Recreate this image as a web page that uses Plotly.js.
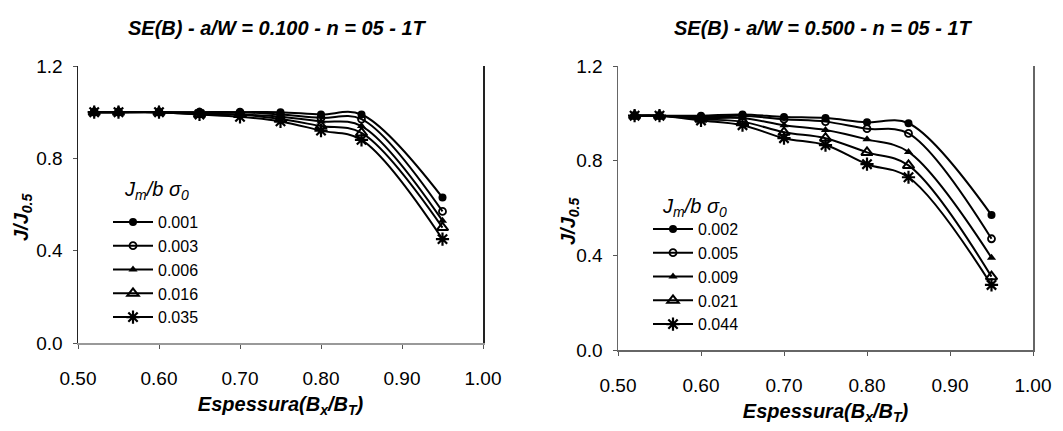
<!DOCTYPE html>
<html>
<head>
<meta charset="utf-8">
<script src="https://cdn.plot.ly/plotly-3.0.1.min.js"></script>
<style>html,body{margin:0;padding:0;background:#fff;}#chart{width:1063px;height:431px;}</style>
</head>
<body>
<div id="chart"></div>
<script>
// ---- data ----
const thickness = [0.52, 0.55, 0.60, 0.65, 0.70, 0.75, 0.80, 0.85, 0.95];

const leftNames = ['0.001', '0.003', '0.006', '0.016', '0.035'];
const left001 = [1.00, 1.00, 1.00, 1.00, 1.00, 1.00, 0.99, 0.99, 0.63];
const left003 = [1.00, 1.00, 1.00, 1.00, 1.00, 0.99, 0.975, 0.97, 0.57];
const left006 = [1.00, 1.00, 1.00, 0.995, 0.99, 0.98, 0.96, 0.94, 0.53];
const left016 = [1.00, 1.00, 1.00, 0.99, 0.99, 0.97, 0.94, 0.91, 0.50];
const left035 = [1.00, 1.00, 1.00, 0.99, 0.98, 0.96, 0.92, 0.88, 0.45];

const rightNames = ['0.002', '0.005', '0.009', '0.021', '0.044'];
const right002 = [0.99, 0.99, 0.99, 0.995, 0.985, 0.98, 0.962, 0.958, 0.57];
const right005 = [0.99, 0.99, 0.985, 0.99, 0.975, 0.965, 0.935, 0.915, 0.47];
const right009 = [0.99, 0.99, 0.98, 0.98, 0.95, 0.93, 0.89, 0.837, 0.39];
const right021 = [0.99, 0.99, 0.975, 0.965, 0.92, 0.895, 0.835, 0.78, 0.31];
const right044 = [0.99, 0.99, 0.97, 0.95, 0.895, 0.866, 0.785, 0.73, 0.275];

const xTicks = [0.5, 0.6, 0.7, 0.8, 0.9, 1.0];
const xTickText = ['0.50', '0.60', '0.70', '0.80', '0.90', '1.00'];
const yTicks = [0.0, 0.4, 0.8, 1.2];
const yTickText = ['0.0', '0.4', '0.8', '1.2'];

// ---- styles ----
const FONT = 'Liberation Sans, Arial, sans-serif';
const markerStyles = [
  {symbol: 'circle', size: 8, color: '#000', line: {width: 0}},
  {symbol: 'circle-open', size: 7, color: '#000', line: {width: 1.8, color: '#000'}},
  {symbol: 'triangle-up', size: 8, color: '#000', line: {width: 0}},
  {symbol: 'triangle-up-open', size: 10, color: '#000', line: {width: 2, color: '#000'}},
  {symbol: 'asterisk-open', size: 11, color: '#000', line: {width: 2.2, color: '#000'}}
];

function mk(y, name, i, xa, ya, lg) {
  return {
    x: thickness, y: y, name: name, type: 'scatter', mode: 'lines+markers',
    xaxis: xa, yaxis: ya, legend: lg,
    line: {color: '#000', width: 2, shape: 'spline', smoothing: 1},
    marker: markerStyles[i]
  };
}

const leftSeries = [left001, left003, left006, left016, left035];
const rightSeries = [right002, right005, right009, right021, right044];
const traces = [];
leftSeries.forEach((s, i) => traces.push(mk(s, leftNames[i], i, 'x', 'y', 'legend')));
rightSeries.forEach((s, i) => traces.push(mk(s, rightNames[i], i, 'x2', 'y2', 'legend2')));

const W = 1063, H = 431;
const px = v => v / W;
const py = v => 1 - v / H;

function xAxis(domain, lineColor, anchor) {
  return {
    domain: domain, anchor: anchor, range: [0.5, 1.0],
    tickvals: xTicks, ticktext: xTickText,
    showgrid: false, zeroline: false,
    showline: true, linecolor: lineColor, linewidth: 1.5,
    ticks: 'outside', ticklen: 4, tickcolor: '#555', tickwidth: 1,
    tickfont: {family: FONT, size: 19, color: '#000'},
    ticklabelstandoff: 14,
    title: {text: '<b><i>Espessura(B<sub>x</sub>/B<sub>T</sub>)</i></b>', font: {family: FONT, size: 20, color: '#000'}, standoff: 8},
    automargin: false
  };
}
function yAxis(domain, lineColor, mirror, anchor) {
  return {
    domain: domain, anchor: anchor, range: [0, 1.2],
    tickvals: yTicks, ticktext: yTickText,
    showgrid: false, zeroline: false,
    showline: true, linecolor: lineColor, linewidth: 1.5, mirror: mirror,
    ticks: 'outside', ticklen: 4, tickcolor: '#555', tickwidth: 1,
    tickfont: {family: FONT, size: 19, color: '#000'},
    ticklabelstandoff: 6,
    automargin: false
  };
}

const legendFont = {family: FONT, size: 16, color: '#000'};
const legTitleText = '<i>J<sub>m</sub>/b σ<sub>0</sub></i>';

const layout = {
  width: W, height: H,
  margin: {l: 0, r: 0, t: 0, b: 0},
  paper_bgcolor: '#fff', plot_bgcolor: '#fff',
  font: {family: FONT, color: '#000'},
  showlegend: true,
  xaxis: xAxis([px(78), px(483)], '#999', 'y'),
  yaxis: yAxis([1 - 343 / H, 1 - 66 / H], '#222', true, 'x'),
  xaxis2: xAxis([px(618), px(1033)], '#666', 'y2'),
  yaxis2: yAxis([1 - 350 / H, 1 - 66 / H], '#666', true, 'x2'),
  legend: {
    x: px(108), y: py(205), xanchor: 'left', yanchor: 'top',
    bgcolor: 'rgba(0,0,0,0)', borderwidth: 0, font: legendFont,
    itemwidth: 40, tracegroupgap: 0
  },
  legend2: {
    x: px(648), y: py(212), xanchor: 'left', yanchor: 'top',
    bgcolor: 'rgba(0,0,0,0)', borderwidth: 0, font: legendFont,
    itemwidth: 40, tracegroupgap: 0
  },
  annotations: [
    {text: '<b><i>SE(B) - a/W = 0.100 - n = 05 - 1T</i></b>', xref: 'paper', yref: 'paper',
     x: px(277), y: py(28), xanchor: 'center', yanchor: 'middle', showarrow: false,
     font: {family: FONT, size: 20, color: '#000'}},
    {text: '<b><i>SE(B) - a/W = 0.500 - n = 05 - 1T</i></b>', xref: 'paper', yref: 'paper',
     x: px(823), y: py(28), xanchor: 'center', yanchor: 'middle', showarrow: false,
     font: {family: FONT, size: 20, color: '#000'}},
    {text: '<b><i>J/J<sub>0.5</sub></i></b>', xref: 'paper', yref: 'paper', textangle: -90,
     x: px(22), y: py(218), xanchor: 'center', yanchor: 'middle', showarrow: false,
     font: {family: FONT, size: 20, color: '#000'}},
    {text: '<b><i>J/J<sub>0.5</sub></i></b>', xref: 'paper', yref: 'paper', textangle: -90,
     x: px(570), y: py(222), xanchor: 'center', yanchor: 'middle', showarrow: false,
     font: {family: FONT, size: 20, color: '#000'}},
    {text: legTitleText, xref: 'paper', yref: 'paper',
     x: px(122), y: py(190), xanchor: 'left', yanchor: 'middle', showarrow: false,
     font: {family: FONT, size: 20, color: '#000'}},
    {text: legTitleText, xref: 'paper', yref: 'paper',
     x: px(660), y: py(207), xanchor: 'left', yanchor: 'middle', showarrow: false,
     font: {family: FONT, size: 20, color: '#000'}}
  ]
};

Plotly.newPlot('chart', traces, layout, {displayModeBar: false, staticPlot: true});
</script>
</body>
</html>
